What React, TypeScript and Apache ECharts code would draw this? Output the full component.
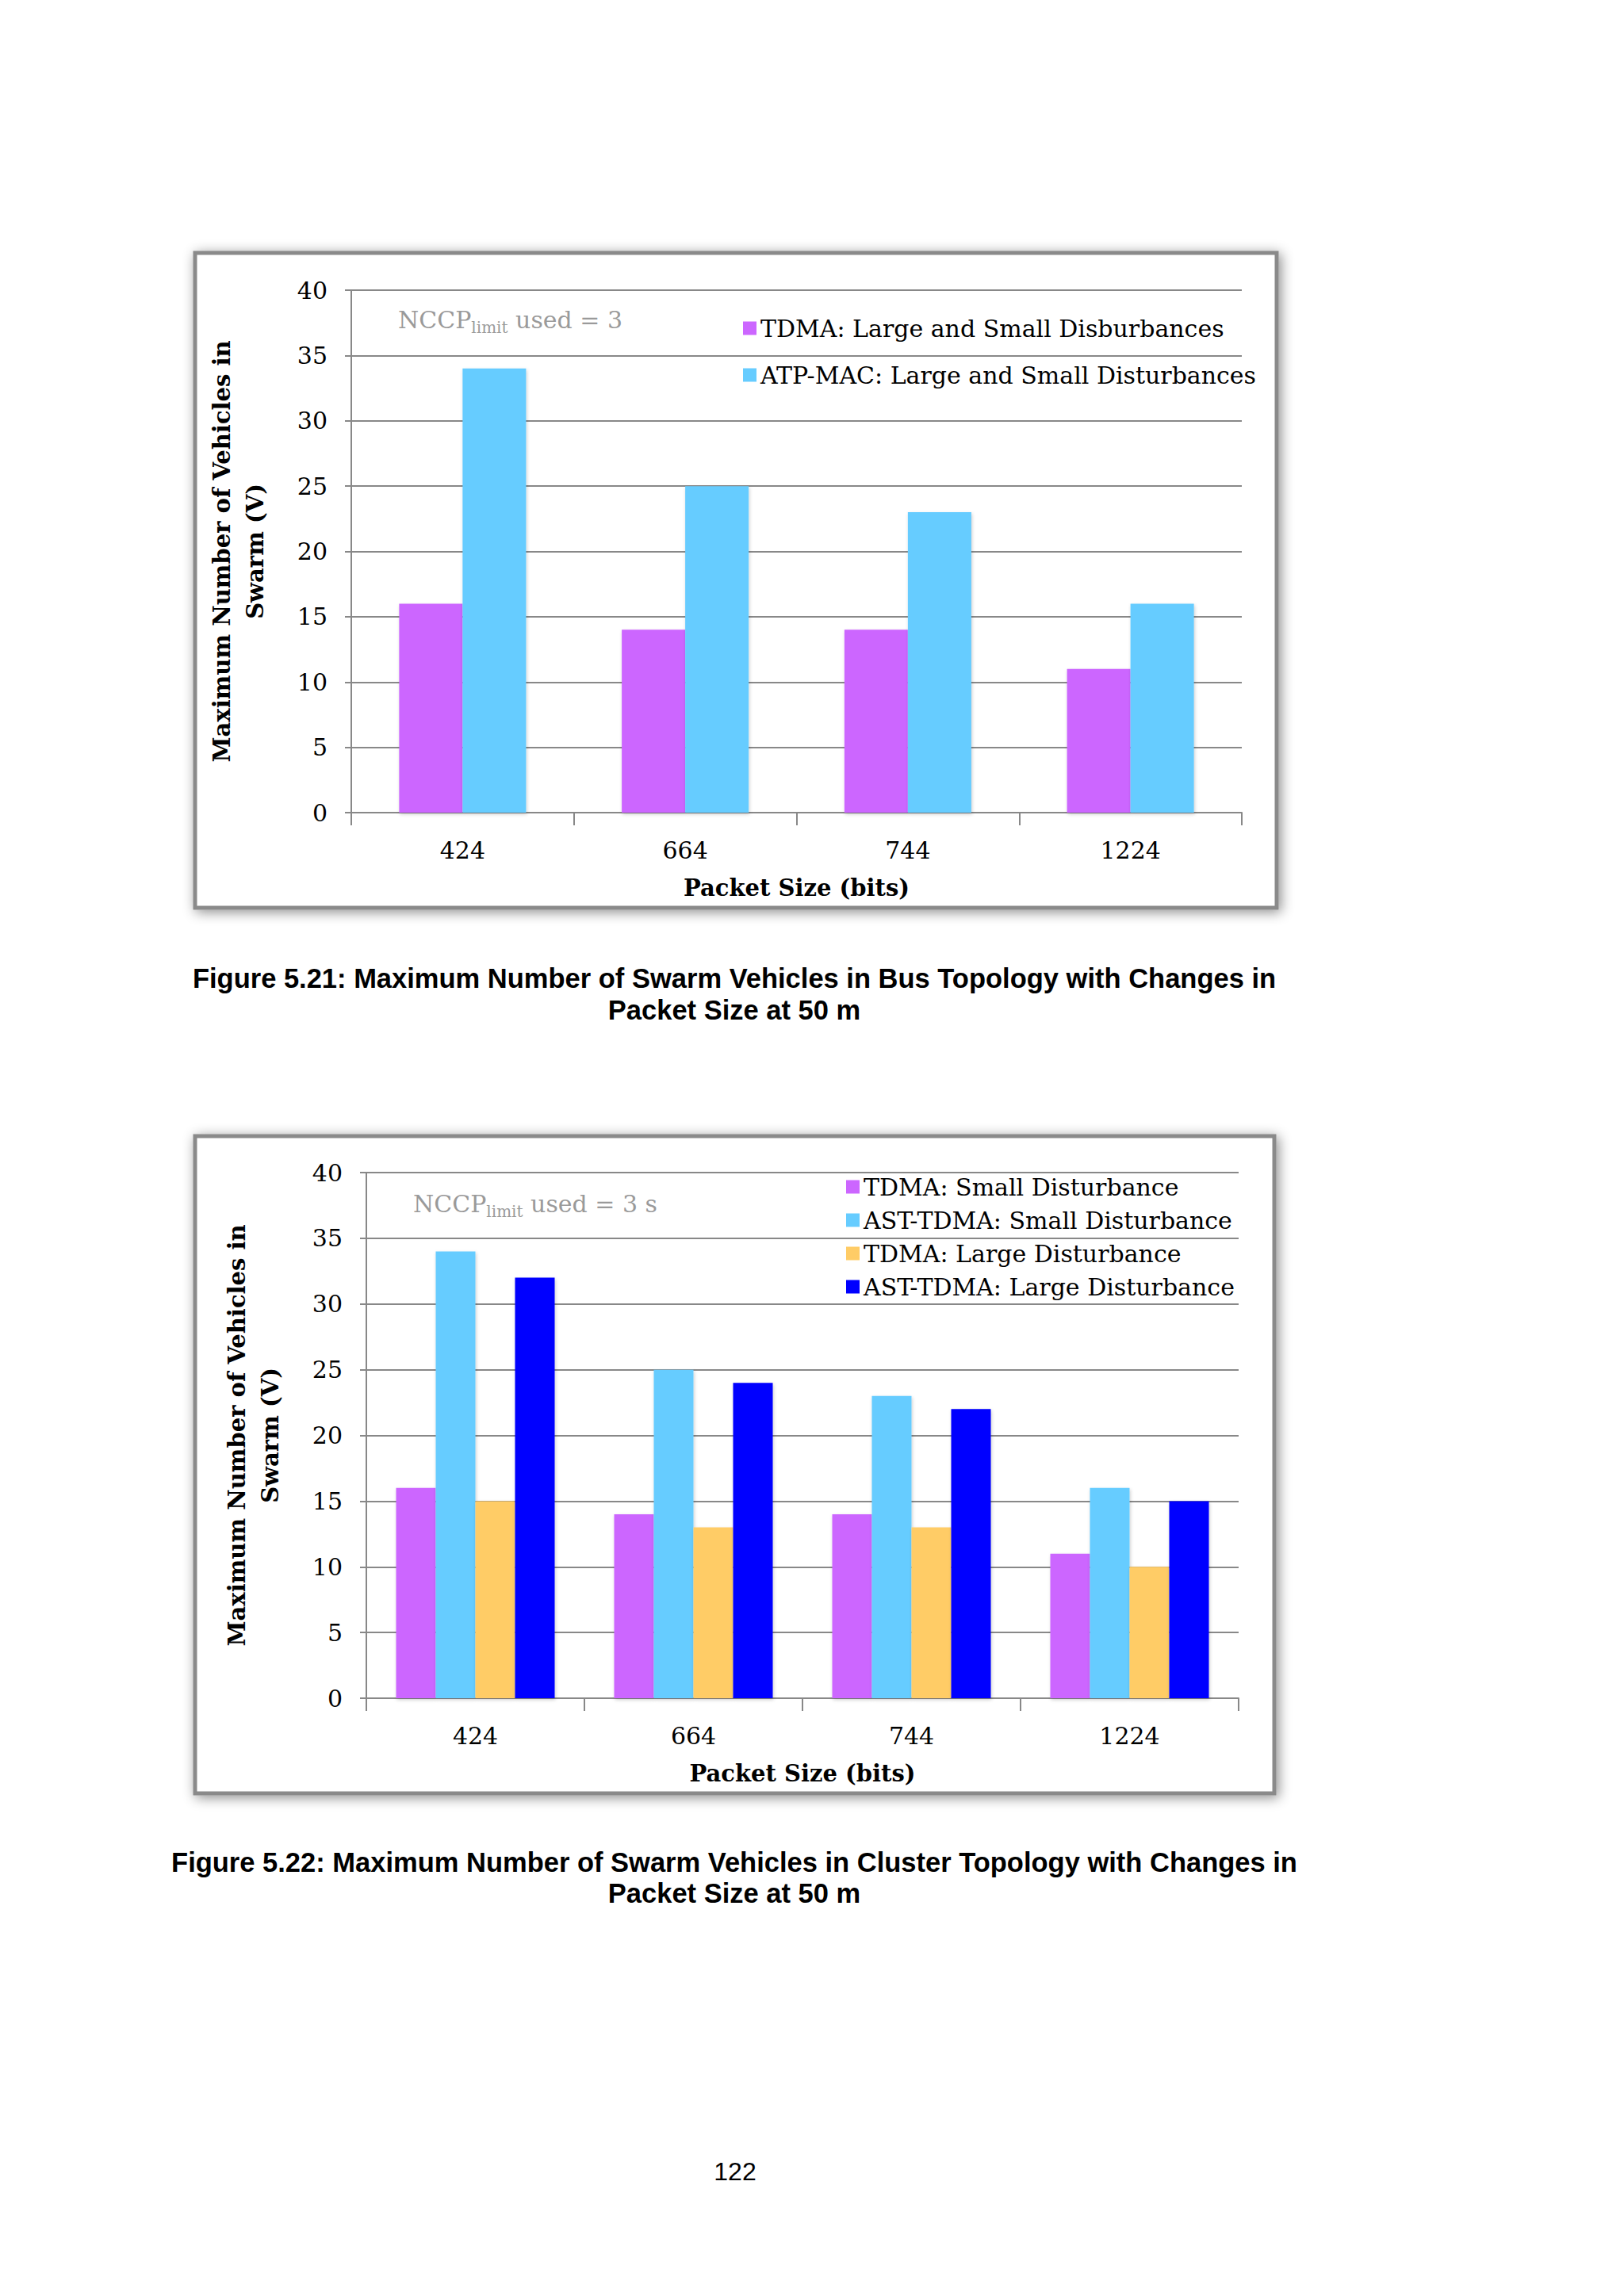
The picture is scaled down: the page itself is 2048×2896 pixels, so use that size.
import React, { useEffect, useRef } from "react";
import * as echarts from "echarts";

const categories = ["424", "664", "744", "1224"];

const chart1Names = [
  "TDMA: Large and Small Disburbances",
  "ATP-MAC: Large and Small Disturbances",
];
const chart1Tdma = [16, 14, 14, 11];
const chart1Atp = [34, 25, 23, 16];

const chart2Names = [
  "TDMA: Small Disturbance",
  "AST-TDMA: Small Disturbance",
  "TDMA: Large Disturbance",
  "AST-TDMA: Large Disturbance",
];
const chart2TdmaSmall = [16, 14, 14, 11];
const chart2AstSmall = [34, 25, 23, 16];
const chart2TdmaLarge = [15, 13, 13, 10];
const chart2AstLarge = [32, 24, 22, 15];

const colors = ["#CC66FF", "#66CCFF", "#FFCC66", "#0000FF"];

const SERIF = "DejaVu Serif";
const SANS = "Liberation Sans";
const GRID_COLOR = "#888888";

function yAxisFor(gridIndex: number, nameGap: number) {
  return {
    type: "value",
    gridIndex,
    min: 0,
    max: 40,
    interval: 5,
    name: "Maximum Number of Vehicles in\nSwarm (V)",
    nameLocation: "middle",
    nameRotate: 90,
    nameGap,
    nameTextStyle: {
      fontFamily: SERIF,
      fontWeight: "bold",
      fontSize: 29,
      lineHeight: 42,
      color: "#000",
    },
    axisLine: { show: true, lineStyle: { color: GRID_COLOR, width: 2 } },
    axisTick: { show: true, length: 8, lineStyle: { color: GRID_COLOR, width: 2 } },
    axisLabel: { fontFamily: SERIF, fontSize: 30, color: "#000", margin: 30 },
    splitLine: { show: true, lineStyle: { color: GRID_COLOR, width: 2 } },
  };
}

function xAxisFor(gridIndex: number) {
  return {
    type: "category",
    gridIndex,
    data: categories,
    name: "Packet Size (bits)",
    nameLocation: "middle",
    nameGap: 80,
    nameTextStyle: {
      fontFamily: SERIF,
      fontWeight: "bold",
      fontSize: 29,
      color: "#000",
    },
    axisLine: { show: true, lineStyle: { color: GRID_COLOR, width: 2 } },
    axisTick: { show: true, length: 16, alignWithLabel: false, lineStyle: { color: GRID_COLOR, width: 2 } },
    axisLabel: { fontFamily: SERIF, fontSize: 30, color: "#000", margin: 32 },
  };
}

function frame(x: number, y: number, w: number, h: number) {
  return {
    type: "rect",
    z: -10,
    shape: { x, y, width: w, height: h },
    style: {
      fill: "#ffffff",
      stroke: "#8a8a8a",
      lineWidth: 5,
      shadowBlur: 16,
      shadowColor: "rgba(0,0,0,0.45)",
      shadowOffsetX: 3,
      shadowOffsetY: 3,
    },
  };
}

function nccp(x: number, y: number, suffix: string) {
  return {
    type: "text",
    x,
    y,
    style: {
      text: "{a|NCCP}{b|limit}{a| used = " + suffix + "}",
      verticalAlign: "middle",
      align: "left",
      rich: {
        a: { fontFamily: SERIF, fontSize: 30, fill: "#9a9a9a", lineHeight: 40, verticalAlign: "middle" },
        b: { fontFamily: SERIF, fontSize: 20, fill: "#9a9a9a", lineHeight: 20, verticalAlign: "bottom" },
      },
    },
  };
}

function caption(y: number, text: string) {
  return {
    type: "text",
    x: 926,
    y,
    style: {
      text,
      align: "center",
      verticalAlign: "middle",
      fontFamily: SANS,
      fontWeight: "bold",
      fontSize: 34.5,
      fill: "#000",
    },
  };
}

function barSeries(name: string, data: number[], color: string, idx: number, width: number) {
  return {
    type: "bar",
    name,
    data,
    xAxisIndex: idx,
    yAxisIndex: idx,
    barWidth: width,
    barGap: "0%",
    itemStyle: {
      color,
      shadowBlur: 4,
      shadowColor: "rgba(0,0,0,0.2)",
      shadowOffsetY: 2,
      shadowOffsetX: 1,
    },
  };
}

export default function App() {
  const ref = useRef<HTMLDivElement>(null);
  useEffect(() => {
    if (!ref.current) return;
    const chart = echarts.init(ref.current, null, { renderer: "svg" });
    chart.setOption({
      animation: false,
      backgroundColor: "#ffffff",
      grid: [
        { left: 443, top: 366, width: 1123, height: 659 },
        { left: 462, top: 1479, width: 1100, height: 663 },
      ],
      xAxis: [xAxisFor(0), xAxisFor(1)],
      yAxis: [yAxisFor(0, 100), yAxisFor(1, 100)],
      legend: [
        {
          data: chart1Names,
          orient: "vertical",
          left: 932,
          top: 389,
          itemWidth: 17,
          itemHeight: 17,
          itemGap: 19,
          icon: "rect",
          textStyle: { fontFamily: SERIF, fontSize: 30, lineHeight: 40, color: "#000" },
        },
        {
          data: chart2Names,
          orient: "vertical",
          left: 1062,
          top: 1474,
          itemWidth: 17,
          itemHeight: 17,
          itemGap: 6,
          icon: "rect",
          textStyle: { fontFamily: SERIF, fontSize: 30, lineHeight: 36, color: "#000" },
        },
      ],
      series: [
        barSeries(chart1Names[0], chart1Tdma, colors[0], 0, 80),
        barSeries(chart1Names[1], chart1Atp, colors[1], 0, 80),
        barSeries(chart2Names[0], chart2TdmaSmall, colors[0], 1, 50),
        barSeries(chart2Names[1], chart2AstSmall, colors[1], 1, 50),
        barSeries(chart2Names[2], chart2TdmaLarge, colors[2], 1, 50),
        barSeries(chart2Names[3], chart2AstLarge, colors[3], 1, 50),
      ],
      graphic: [
        frame(246, 319, 1364, 826),
        frame(246, 1433, 1361, 829),
        nccp(502, 403, "3"),
        nccp(521, 1518, "3 s"),
        caption(1234, "Figure 5.21: Maximum Number of Swarm Vehicles in Bus Topology with Changes in"),
        caption(1274, "Packet Size at 50 m"),
        caption(2349, "Figure 5.22: Maximum Number of Swarm Vehicles in Cluster Topology with Changes in"),
        caption(2388, "Packet Size at 50 m"),
        {
          type: "text",
          x: 927,
          y: 2739,
          style: {
            text: "122",
            align: "center",
            verticalAlign: "middle",
            fontFamily: SANS,
            fontSize: 32,
            fill: "#000",
          },
        },
      ],
    });
    return () => chart.dispose();
  }, []);
  return (
    <div
      ref={ref}
      style={{ position: "absolute", left: 0, top: 0, width: 2048, height: 2896 }}
    />
  );
}
